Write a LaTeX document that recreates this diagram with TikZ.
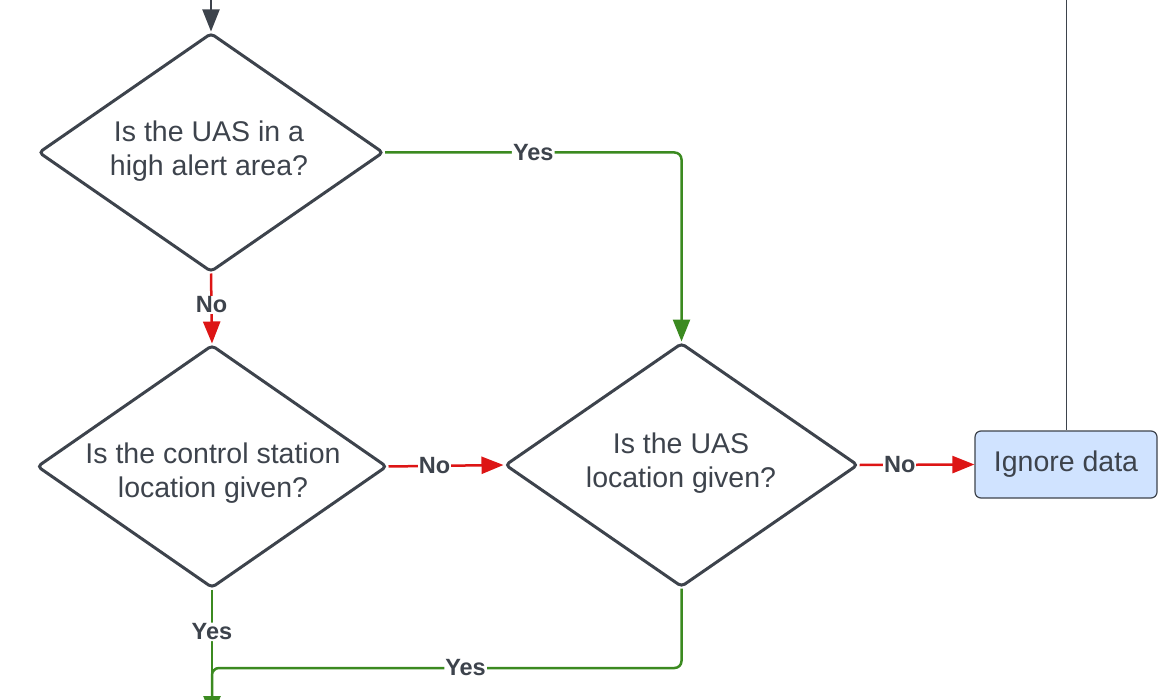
\documentclass[tikz,border=0pt]{standalone}
\usepackage{fontspec}
\setmainfont{Liberation Sans}
\usetikzlibrary{shapes.geometric,arrows.meta}
\definecolor{lgray}{HTML}{3D434C}
\definecolor{lgreen}{HTML}{3B8A20}
\definecolor{lred}{HTML}{DD1515}
\definecolor{lblue}{HTML}{D0E3FF}
\tikzset{
  decision/.style={diamond, aspect=1.44, draw=lgray, line width=3pt, rounded corners=4pt, inner sep=0pt},
  dtext/.style={align=center, text=lgray, inner sep=0pt, font=\fontsize{28.5}{34}\selectfont},
  procbox/.style={rectangle, draw=lgray, line width=1.2pt, fill=lblue, rounded corners=6pt, text=lgray, font=\fontsize{28.5}{34}\selectfont, minimum width=182pt, minimum height=67pt, inner sep=0pt},
  yesline/.style={draw=lgreen, line width=2.5pt, rounded corners=7pt},
  noline/.style={draw=lred, line width=2.5pt},
  tip/.style={-{Triangle[length=22pt,width=17pt]}},
  lbl/.style={fill=white, text=lgray, font=\bfseries\fontsize{23.5}{26}\selectfont, inner sep=1pt},
}
\begin{document}
\begin{tikzpicture}[x=1pt,y=-1pt]
\useasboundingbox (0,0) rectangle (1174,700);
\node[decision, minimum width=345pt, minimum height=239pt] (d1) at (211,152.5) {};
\node[decision, minimum width=350pt, minimum height=243pt] (d2) at (212,466.5) {};
\node[decision, minimum width=353pt, minimum height=244pt] (d3) at (681.5,465) {};
\node[dtext] (t1) at (209,151) {Is the UAS in a\\high alert area?};
\node[dtext] (t2) at (213,473.5) {Is the control station\\location given?};
\node[dtext] (t3) at (681,463.5) {Is the UAS\\location given?};
\node[procbox] (box) at (1066,464.5) {Ignore data};
\coordinate (top) at (211,-2);
\coordinate (tr) at (1066,-2);
\coordinate (bot) at (212,718);
\coordinate (merge) at (212,668);
\coordinate (mergedown) at (212,700);
\draw[draw=lgray, line width=2pt, tip] (top) -- (d1.north);
\draw[draw=lgray, line width=1pt] (tr) -- (box.north);
\draw[yesline, tip] (d1.east) -| node[lbl, pos=0.25] {Yes} (d3.north);
\draw[noline, tip] (d1.south) -- node[lbl, pos=0.45] {No} (d2.north);
\draw[noline, tip] (d2.east) -- node[lbl, pos=0.4] {No} (d3.west);
\draw[noline, tip] (d3.east) -- node[lbl, pos=0.35] {No} (box.west);
\draw[yesline, tip] (d2.south) -- node[lbl, pos=0.33] {Yes} (bot);
\draw[yesline] (d3.south) |- node[lbl, pos=0.73] {Yes} (merge) -- (mergedown);
\end{tikzpicture}
\end{document}
